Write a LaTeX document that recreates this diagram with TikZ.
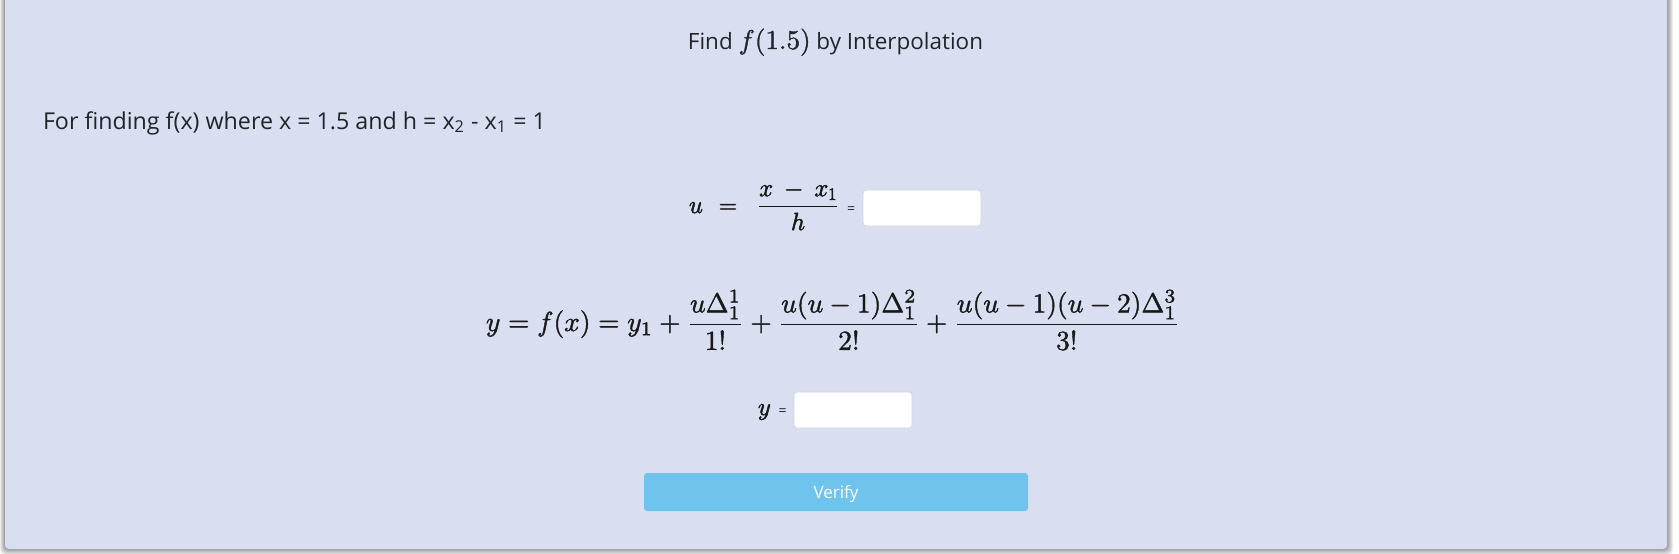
\documentclass[tikz,border=0pt]{standalone}
\usepackage{amsmath}
\usepackage[no-math]{fontspec}
\setmainfont{Open Sans}
\usepackage{graphicx}
\definecolor{panelcol}{RGB}{217,223,240}
\definecolor{txtcol}{RGB}{33,37,41}
\definecolor{boxborder}{RGB}{206,212,218}
\definecolor{btncol}{RGB}{111,196,238}
\newcommand\heavymath[2][0.4]{\special{pdf:literal 2 Tr #1 w}#2\special{pdf:literal 0 Tr 0.4 w}}
\begin{document}
\begin{tikzpicture}[x=1pt,y=-1pt,
  txt/.style={inner sep=0pt, outer sep=0pt, text=txtcol},
  mathtxt/.style={inner sep=0pt, outer sep=0pt, text=black!90, font=\fontsize{25.6}{30}\selectfont},
  inbox/.style={draw=boxborder, fill=white, rounded corners=3pt, line width=0.8pt, inner sep=0pt, minimum width=118pt, minimum height=36pt},
  btn/.style={fill=btncol, rounded corners=3pt, text=white, inner sep=0pt, minimum width=384pt, minimum height=38pt, text height=12pt, text depth=0pt, font=\fontsize{17}{20}\selectfont},
  smalleq/.style={inner sep=0pt, outer sep=0pt, text=txtcol, font=\fontsize{14}{16}\selectfont}]
\useasboundingbox (0,0) rectangle (1679,554);
\fill[white] (0,0) rectangle (1679,554);
\foreach \i in {1,...,6}
  \fill[black, opacity=0.07, rounded corners=5pt] (5-0.8*\i,-10) rectangle (1667+\i,549+\i);
\fill[panelcol, rounded corners=4pt] (5,-10) rectangle (1667,549);
% title
\node[txt, anchor=base] (title) at (835.5,49)
  {\resizebox{295pt}{!}{Find \scalebox{1.21}{\heavymath[0.12]{$f(1.5)$}} by Interpolation}};
% intro line
\node[txt, anchor=base west] (intro) at (43,129)
  {\resizebox{503pt}{!}{For finding f(x) where x = 1.5 and h = x\textsubscript{2} - x\textsubscript{1} = 1}};
% u row
\node[mathtxt, anchor=base west] (u) at (689,213) {\heavymath[0.55]{$u$}};
\node[mathtxt, anchor=base west] (ueq) at (719,213) {\heavymath[0.55]{$=$}};
\node[mathtxt, anchor=base] (ufrac) at (798,213) {\heavymath[0.55]{$\displaystyle\frac{x\:-\:x_1}{h}$}};
\node[smalleq, anchor=base] (ueq2) at (851,213) {=};
\node[inbox] (ubox) at (922,208) {};
% main formula
\node[inner sep=0pt, outer sep=0pt, text=black!90, anchor=base] (formula) at (833,331)
  {\resizebox{694pt}{!}{\heavymath[0.14]{$\displaystyle y=f(x)=y_1+\frac{u\Delta_1^1}{1!}+\frac{u(u-1)\Delta_1^2}{2!}+\frac{u(u-1)(u-2)\Delta_1^3}{3!}$}}};
% y row
\node[mathtxt, anchor=base west] (y) at (758,415) {\heavymath[0.55]{$y$}};
\node[smalleq, anchor=base] (yeq) at (782.5,415) {=};
\node[inbox] (ybox) at (853,410) {};
% button
\node[btn] (verify) at (836,492) {Verify};
\end{tikzpicture}
\end{document}
